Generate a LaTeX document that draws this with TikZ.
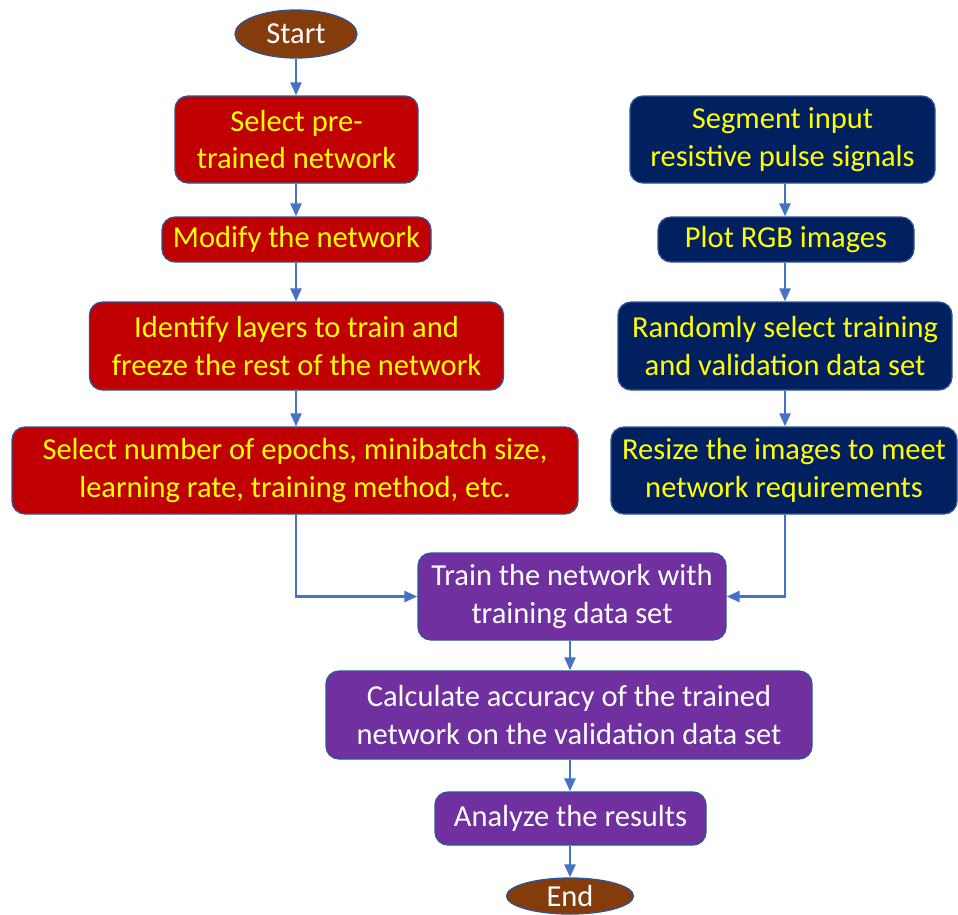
\documentclass[tikz,border=0pt]{standalone}
\usepackage{fontspec}
\setmainfont{Carlito}
\usetikzlibrary{arrows.meta,shapes.geometric}
\definecolor{redbox}{HTML}{C00000}
\definecolor{navybox}{HTML}{002060}
\definecolor{purplebox}{HTML}{7030A0}
\definecolor{brownov}{HTML}{843C0C}
\definecolor{edgeblue}{HTML}{2F5597}
\definecolor{arrowblue}{HTML}{4472C4}
\definecolor{txtyellow}{HTML}{FFFF00}
\tikzset{
  boxbase/.style={draw=edgeblue, line width=1.3pt, rounded corners=13pt, inner sep=0pt, align=center,
    font=\fontsize{30.5}{37.5}\selectfont},
  redstep/.style={boxbase, fill=redbox, text=txtyellow},
  navystep/.style={boxbase, fill=navybox, text=txtyellow},
  purplestep/.style={boxbase, fill=purplebox, text=white},
  term/.style={ellipse, draw=edgeblue, line width=1.3pt, fill=brownov, text=white, inner sep=0pt,
    font=\fontsize{30.5}{37.5}\selectfont},
  flow/.style={draw=arrowblue, line width=2.5pt, -{Triangle[length=13pt,width=11pt]}}
}
\begin{document}
\begin{tikzpicture}[x=1pt,y=-1pt]
\useasboundingbox (0,0) rectangle (958,914);
\node[term, minimum width=122pt, minimum height=48pt] (start) at (296,34) {Start};
\node[redstep, minimum width=243pt, minimum height=87pt] (b1) at (296.5,139.5) {Select pre-\\trained network};
\node[redstep, minimum width=269pt, minimum height=45pt] (b2) at (296.5,239.5) {Modify the network};
\node[redstep, minimum width=414pt, minimum height=88pt] (b3) at (296.5,346) {Identify layers to train and\\freeze the rest of the network};
\node[redstep, minimum width=566pt, minimum height=87pt] (b4) at (295,470.5) {Select number of epochs, minibatch size,\\learning rate, training method, etc.};
\node[navystep, minimum width=305pt, minimum height=87pt] (b5) at (782.5,139.5) {Segment input\\resistive pulse signals};
\node[navystep, minimum width=256pt, minimum height=45pt] (b6) at (786,239.5) {Plot RGB images};
\node[navystep, minimum width=334pt, minimum height=88pt] (b7) at (785,346) {Randomly select training\\and validation data set};
\node[navystep, minimum width=346pt, minimum height=87pt] (b8) at (784,470.5) {Resize the images to meet\\network requirements};
\node[purplestep, minimum width=308pt, minimum height=87pt] (b9) at (572,596.5) {Train the network with\\training data set};
\node[purplestep, minimum width=486pt, minimum height=88pt] (b10) at (569,715) {Calculate accuracy of the trained\\network on the validation data set};
\node[purplestep, minimum width=271pt, minimum height=53pt] (b11) at (570.5,818.5) {Analyze the results};
\node[term, minimum width=127pt, minimum height=36pt] (end) at (570,896) {End};
\draw[flow] (start.south -| 296,0) -- (b1.north -| 296,0);
\draw[flow] (b1.south -| 296,0) -- (b2.north -| 296,0);
\draw[flow] (b2.south -| 296,0) -- (b3.north -| 296,0);
\draw[flow] (b3.south -| 296,0) -- (b4.north -| 296,0);
\draw[flow] (b5.south -| 785,0) -- (b6.north -| 785,0);
\draw[flow] (b6.south -| 785,0) -- (b7.north -| 785,0);
\draw[flow] (b7.south -| 785,0) -- (b8.north -| 785,0);
\draw[flow] (b4.south -| 296,0) |- (b9.west);
\draw[flow] (b8.south -| 785,0) |- (b9.east);
\draw[flow] (b9.south -| 570,0) -- (b10.north -| 570,0);
\draw[flow] (b10.south -| 570,0) -- (b11.north -| 570,0);
\draw[flow] (b11.south -| 570,0) -- (end.north);
\end{tikzpicture}
\end{document}
